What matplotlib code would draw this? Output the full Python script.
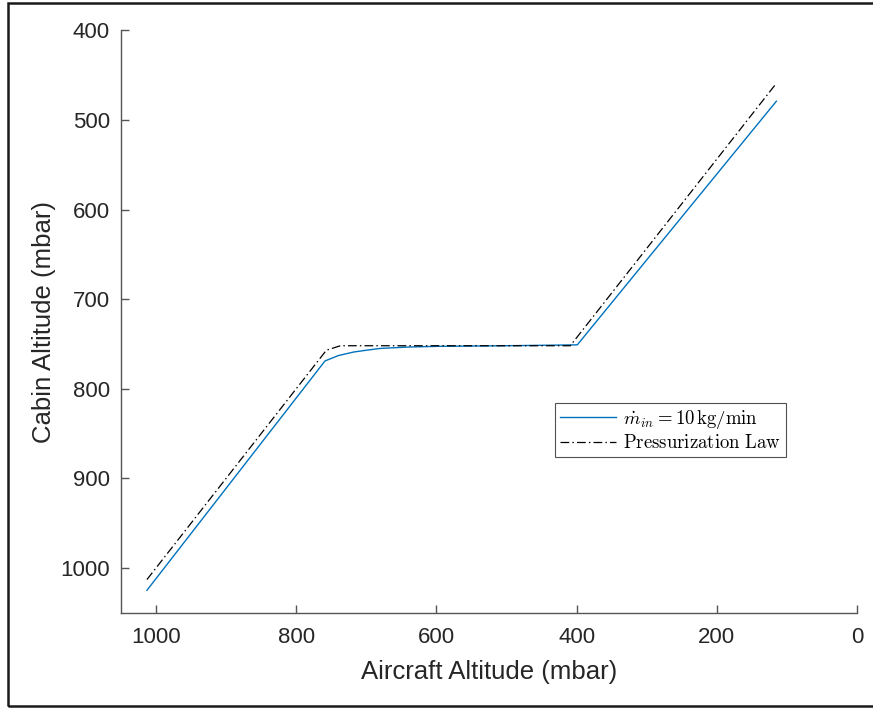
import matplotlib
matplotlib.use("Agg")
import matplotlib.pyplot as plt
from matplotlib.patches import Rectangle

# Data
mdot_aircraft = [1013, 759, 740, 718, 700, 680, 642, 600, 500, 399, 115]
mdot_cabin    = [1025, 769, 763, 759, 757, 755, 753.5, 752.7, 752, 751, 479]
law_aircraft = [1013, 757, 737, 409, 117]
law_cabin    = [1013, 757, 752, 752, 461]

x_ticks = [1000, 800, 600, 400, 200, 0]
y_ticks = [400, 500, 600, 700, 800, 900, 1000]

plt.rcParams['font.family'] = ['Liberation Sans', 'DejaVu Sans']
plt.rcParams['mathtext.fontset'] = 'cm'

fig = plt.figure(figsize=(8.73, 7.08), dpi=100)
ax = fig.add_axes([121/873, 1-612.7/708, 736/873, (612.7-30.4)/708])

ax.plot(mdot_aircraft, mdot_cabin, color='#0072BD', lw=1.0,
        label=r'$\dot{m}_{in} = 10\,\mathrm{kg/min}$')
ax.plot(law_aircraft, law_cabin, color='black', lw=0.9, linestyle=(0, (7, 2.5, 1.2, 2.5)),
        label=r'$\mathrm{Pressurization\ Law}$')

ax.set_xlim(1050, 0)
ax.set_ylim(1050, 400)
ax.set_xticks(x_ticks)
ax.set_yticks(y_ticks)

axcol = '#555555'
for s in ['top', 'right']:
    ax.spines[s].set_visible(False)
for s in ['left', 'bottom']:
    ax.spines[s].set_color(axcol)
    ax.spines[s].set_linewidth(1.0)
ax.tick_params(direction='in', length=6, width=1.0, color=axcol, labelsize=16,
               labelcolor='#262626', pad=8)
ax.tick_params(axis='x', pad=10)

ax.set_xlabel('Aircraft Altitude (mbar)', fontsize=18.5, color='#262626', labelpad=9)
ax.set_ylabel('Cabin Altitude (mbar)', fontsize=18.5, color='#262626', labelpad=3)

leg = ax.legend(loc='upper left', bbox_to_anchor=((555-121)/736, 1-(403-30.4)/582.3),
                fontsize=13.5, frameon=True, fancybox=False, handlelength=3.0,
                borderpad=0.25, labelspacing=0.2, handletextpad=0.4, borderaxespad=0)
leg.get_frame().set_edgecolor('#262626')
leg.get_frame().set_linewidth(0.8)

fig.patches.append(Rectangle((8/873, 1-706/708), 1.0, (706-2.5)/708, transform=fig.transFigure,
                             fill=False, edgecolor='#1a1a1a', lw=1.8, clip_on=False))

fig.savefig('out.png', dpi=100)
